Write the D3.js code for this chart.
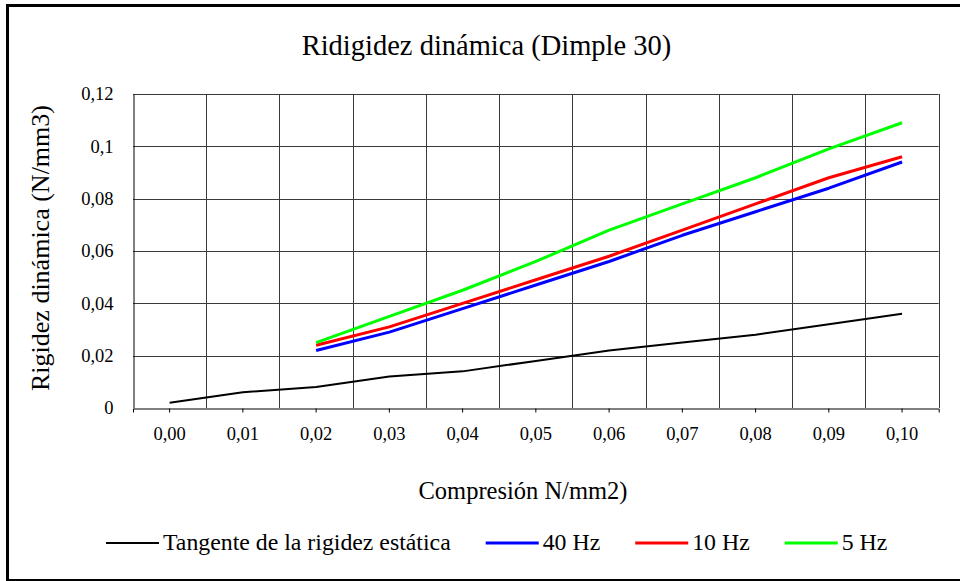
<!DOCTYPE html>
<html>
<head>
<meta charset="utf-8">
<script src="https://cdn.jsdelivr.net/npm/d3@7"></script>
<style>
  body { margin: 0; background: #fff; }
  svg { display: block; font-family: "Liberation Serif", "DejaVu Serif", serif; }
</style>
</head>
<body>
<svg id="chart" width="960" height="581"></svg>
<script>
// Chart data
const categories = ["0,00", "0,01", "0,02", "0,03", "0,04", "0,05", "0,06", "0,07", "0,08", "0,09", "0,10"];
const tangente = [0.002, 0.006, 0.008, 0.012, 0.014, 0.018, 0.022, 0.025, 0.028, 0.032, 0.036];
const hz40 = [null, null, 0.022, 0.029, 0.038, 0.047, 0.056, 0.066, 0.075, 0.084, 0.094];
const hz10 = [null, null, 0.024, 0.031, 0.040, 0.049, 0.058, 0.068, 0.078, 0.088, 0.096];
const hz5 = [null, null, 0.025, 0.035, 0.045, 0.056, 0.068, 0.078, 0.088, 0.099, 0.109];
const yTicks = [0, 0.02, 0.04, 0.06, 0.08, 0.1, 0.12];
const yTickLabels = ["0", "0,02", "0,04", "0,06", "0,08", "0,1", "0,12"];

const seriesNames = ["Tangente de la rigidez estática", "40 Hz", "10 Hz", "5 Hz"];
const seriesValues = [tangente, hz40, hz10, hz5];
const seriesColors = ["#000000", "#0000ff", "#ff0000", "#00ff00"];
const seriesWidths = [2, 3, 3, 3];

const svg = d3.select("#chart");
const margin = { top: 94, right: 21.3, bottom: 173, left: 133 };
const width = 960, height = 581;

// outer frame (right edge lies outside the picture)
svg.append("rect")
    .attr("x", 7.5).attr("y", 5.5)
    .attr("width", 1000).attr("height", 575)
    .attr("fill", "none").attr("stroke", "#000").attr("stroke-width", 3);

const x = d3.scaleBand()
    .domain(categories)
    .range([margin.left, width - margin.right])
    .padding(0);

const y = d3.scaleLinear()
    .domain([0, 0.12])
    .range([height - margin.bottom, margin.top]);

const plot = svg.append("g");

// horizontal gridlines
plot.selectAll("line.hgrid")
    .data(yTicks.slice(1))
    .enter().append("line")
    .attr("class", "hgrid")
    .attr("x1", margin.left).attr("x2", width - margin.right)
    .attr("y1", d => Math.round(y(d)) + 0.5).attr("y2", d => Math.round(y(d)) + 0.5)
    .attr("stroke", "#3a3a3a").attr("stroke-width", 1);

// vertical gridlines at category boundaries
plot.selectAll("line.vgrid")
    .data(categories.slice(1).concat(["end"]))
    .enter().append("line")
    .attr("class", "vgrid")
    .attr("x1", d => Math.round(d === "end" ? x.range()[1] : x(d)) + 0.5)
    .attr("x2", d => Math.round(d === "end" ? x.range()[1] : x(d)) + 0.5)
    .attr("y1", margin.top).attr("y2", y(0))
    .attr("stroke", "#3a3a3a").attr("stroke-width", 1);

// x axis
const xAxis = svg.append("g")
    .attr("transform", `translate(0, ${Math.round(y(0)) + 0.5})`)
    .call(d3.axisBottom(x).tickSize(4).tickSizeOuter(4).tickPadding(14));
xAxis.select(".domain").attr("stroke", "#000");
xAxis.selectAll(".tick line").attr("stroke", "#000");
xAxis.selectAll("text")
    .attr("font-family", "Liberation Serif").attr("font-size", "18.5px").attr("fill", "#000");

// y axis
const yAxis = svg.append("g")
    .attr("transform", `translate(${margin.left + 0.5}, 0)`)
    .call(d3.axisLeft(y).tickValues(yTicks).tickFormat((d, i) => yTickLabels[i]).tickSize(0).tickPadding(20));
yAxis.select(".domain").attr("stroke", "#000");
yAxis.selectAll("text")
    .attr("font-family", "Liberation Serif").attr("font-size", "18.5px").attr("fill", "#000");

// series lines
const line = d3.line()
    .defined(d => d != null)
    .x((d, i) => x(categories[i]) + x.bandwidth() / 2)
    .y(d => y(d));

seriesValues.forEach((vals, s) => {
    svg.append("path")
        .datum(vals)
        .attr("d", line)
        .attr("fill", "none")
        .attr("stroke", seriesColors[s])
        .attr("stroke-width", seriesWidths[s])
        .attr("stroke-linejoin", "round");
});

// titles
svg.append("text")
    .attr("x", 486.5).attr("y", 55)
    .attr("text-anchor", "middle")
    .attr("font-size", "28.5px")
    .text("Ridigidez dinámica (Dimple 30)");

svg.append("text")
    .attr("transform", "translate(49, 248) rotate(-90)")
    .attr("text-anchor", "middle")
    .attr("font-size", "26px")
    .text("Rigidez dinámica (N/mm3)");

svg.append("text")
    .attr("x", 523).attr("y", 499)
    .attr("text-anchor", "middle")
    .attr("font-size", "24.5px")
    .text("Compresión N/mm2)");

// legend
const legend = svg.append("g").attr("transform", "translate(106, 543)");
let lx = 0;
seriesNames.forEach((name, s) => {
    legend.append("line")
        .attr("x1", lx).attr("x2", lx + 53)
        .attr("y1", 0).attr("y2", 0)
        .attr("stroke", seriesColors[s])
        .attr("stroke-width", seriesWidths[s]);
    const t = legend.append("text")
        .attr("x", lx + 57).attr("y", 7)
        .attr("font-size", "23.8px")
        .text(name);
    lx += 57 + t.node().getComputedTextLength() + 35;
});
</script>
</body>
</html>
